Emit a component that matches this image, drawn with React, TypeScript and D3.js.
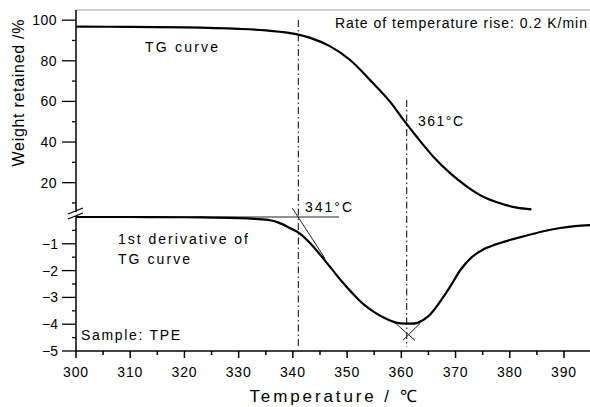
import React from "react";
import * as d3 from "d3";

// TG curve (temperature °C, weight retained %)
const tgTemp = [300, 310, 320, 330, 335, 339.5, 343.2, 346.8, 350.5, 354.2, 357.9, 360.4, 362.8, 365.9, 369.0, 372.1, 375.1, 378.2, 381.3, 384.0];
const tgWeight = [96.8, 96.7, 96.4, 95.7, 95.0, 93.6, 91.3, 87.2, 80.5, 70.6, 59.9, 50.9, 42.7, 32.8, 24.7, 18.1, 13.1, 9.9, 7.7, 6.9];

// 1st derivative of TG curve
const dtgTemp = [300, 310, 320, 325, 330, 333, 335.8, 337.5, 339.5, 341.3, 343.2, 345, 347, 349, 351, 353, 355, 357, 359, 361, 363, 365, 367, 369, 371, 373, 375, 377, 380, 383, 386, 389, 392, 395];
const dtgValue = [0, 0, -0.01, -0.02, -0.04, -0.07, -0.12, -0.22, -0.42, -0.62, -0.98, -1.4, -1.9, -2.4, -2.85, -3.25, -3.55, -3.78, -3.94, -3.98, -3.95, -3.7, -3.2, -2.6, -1.95, -1.5, -1.22, -1.05, -0.86, -0.7, -0.54, -0.42, -0.34, -0.3];

// Ticks
const xTicksMajor = [300, 310, 320, 330, 340, 350, 360, 370, 380, 390];
const xTicksMinor = [305, 315, 325, 335, 345, 355, 365, 375, 385, 395];
const yUpMajor = [20, 40, 60, 80, 100];
const yUpMinor = [10, 30, 50, 70, 90];
const yLowMajor = [-5, -4, -3, -2, -1];
const yLowMinor = [-4.5, -3.5, -2.5, -1.5, -0.5];

// Annotation temperatures
const onsetT = 341;
const peakT = 361;
// helper segments [T1, v1, T2, v2] in derivative units
const baselineSeg = [300, 0, 348.5, 0];
const onsetTangent = [339.9, 0.33, 345.9, -1.54];
const peakTangentL = [358.9, -3.96, 362.5, -4.6];
const peakTangentR = [363.5, -3.96, 360.3, -4.6];

const W = 590;
const H = 407;
const FONT = "'Liberation Sans', Arial, sans-serif";

export default function App() {
  const x = d3.scaleLinear().domain([300, 395]).range([76, 591.1]);
  const yUp = d3.scaleLinear().domain([0, 105]).range([223.3, 10]);
  const yLow = d3.scaleLinear().domain([-5, 0]).range([351, 217]);

  const tgLine = d3
    .line<number>()
    .x((_, i) => x(tgTemp[i]))
    .y((d) => yUp(d))
    .curve(d3.curveCatmullRom.alpha(0.5))(tgWeight) as string;

  const dtgLine = d3
    .line<number>()
    .x((_, i) => x(dtgTemp[i]))
    .y((d) => yLow(d))
    .curve(d3.curveCatmullRom.alpha(0.5))(dtgValue) as string;

  const seg = (s: number[], key: string) => (
    <line key={key} x1={x(s[0])} y1={yLow(s[1])} x2={x(s[2])} y2={yLow(s[3])} stroke="#222" strokeWidth={1} />
  );

  const axisX = 76;
  const dash = "7,3,1.5,3";

  return (
    <svg width={W} height={H} style={{ position: "absolute", left: 0, top: 0, background: "#fff" }} fontFamily={FONT}>
      {/* top frame */}
      <line x1={axisX} y1={10} x2={W} y2={10} stroke="#999" strokeWidth={1} />
      {/* left axis upper & lower */}
      <line x1={axisX} y1={10} x2={axisX} y2={212} stroke="#000" strokeWidth={1.5} />
      <line x1={axisX} y1={216} x2={axisX} y2={351} stroke="#000" strokeWidth={1.5} />
      {/* break marks */}
      <line x1={68} y1={214} x2={83} y2={208} stroke="#000" strokeWidth={1.3} />
      <line x1={68} y1={219} x2={83} y2={213} stroke="#000" strokeWidth={1.3} />
      {/* bottom axis */}
      <line x1={axisX} y1={351} x2={W} y2={351} stroke="#000" strokeWidth={1.5} />

      {xTicksMajor.map((t) => (
        <g key={"xm" + t}>
          <line x1={x(t)} y1={351} x2={x(t)} y2={358} stroke="#000" strokeWidth={1.5} />
          <text x={x(t)} y={377} textAnchor="middle" fontSize={14} letterSpacing={0.8}>
            {t}
          </text>
        </g>
      ))}
      {xTicksMinor.map((t) => (
        <line key={"xn" + t} x1={x(t)} y1={351} x2={x(t)} y2={355} stroke="#000" strokeWidth={1.5} />
      ))}

      {yUpMajor.map((v) => (
        <g key={"yum" + v}>
          <line x1={62} y1={yUp(v)} x2={axisX} y2={yUp(v)} stroke="#000" strokeWidth={1.3} />
          <text x={57} y={yUp(v) + 5} textAnchor="end" fontSize={14} letterSpacing={0.5}>
            {v}
          </text>
        </g>
      ))}
      {yUpMinor.map((v) => (
        <line key={"yun" + v} x1={72} y1={yUp(v)} x2={axisX} y2={yUp(v)} stroke="#000" strokeWidth={1.3} />
      ))}
      {yLowMajor.map((v) => (
        <g key={"ylm" + v}>
          <line x1={62} y1={yLow(v)} x2={axisX} y2={yLow(v)} stroke="#000" strokeWidth={1.3} />
          <text x={58} y={yLow(v) + 5} textAnchor="end" fontSize={14}>
            {"\u2212" + Math.abs(v)}
          </text>
        </g>
      ))}
      {yLowMinor.map((v) => (
        <line key={"yln" + v} x1={72} y1={yLow(v)} x2={axisX} y2={yLow(v)} stroke="#000" strokeWidth={1.3} />
      ))}

      {/* vertical dash-dot markers */}
      <line x1={x(onsetT)} y1={20} x2={x(onsetT)} y2={347} stroke="#000" strokeWidth={1} strokeDasharray={dash} />
      <line x1={x(peakT)} y1={100} x2={x(peakT)} y2={347} stroke="#000" strokeWidth={1} strokeDasharray={dash} />

      {/* helper lines */}
      {seg(baselineSeg, "base")}
      {seg(onsetTangent, "ot")}
      {seg(peakTangentL, "pl")}
      {seg(peakTangentR, "pr")}

      {/* curves */}
      <path d={tgLine} fill="none" stroke="#000" strokeWidth={2.2} />
      <path d={dtgLine} fill="none" stroke="#000" strokeWidth={2.2} />

      {/* annotations */}
      <text x={335} y={28} fontSize={14} textLength={252} lengthAdjust="spacing">
        Rate of temperature rise: 0.2 K/min
      </text>
      <text x={145} y={52} fontSize={14} textLength={73} lengthAdjust="spacing">
        TG curve
      </text>
      <text x={418} y={126} fontSize={14} textLength={45} lengthAdjust="spacing">
        361°C
      </text>
      <text x={305} y={212} fontSize={14} textLength={47} lengthAdjust="spacing">
        341°C
      </text>
      <text x={118} y={244} fontSize={14} textLength={130} lengthAdjust="spacing">
        1st derivative of
      </text>
      <text x={118} y={264} fontSize={14} textLength={72} lengthAdjust="spacing">
        TG curve
      </text>
      <text x={81} y={340} fontSize={14} textLength={99} lengthAdjust="spacing">
        Sample: TPE
      </text>

      {/* axis titles */}
      <text x={333} y={402} textAnchor="middle" fontSize={17} textLength={167} lengthAdjust="spacing">
        Temperature / ℃
      </text>
      <text
        transform={`translate(24, 93) rotate(-90)`}
        textAnchor="middle"
        fontSize={16}
        textLength={147}
        lengthAdjust="spacing"
      >
        Weight retained /%
      </text>
    </svg>
  );
}
